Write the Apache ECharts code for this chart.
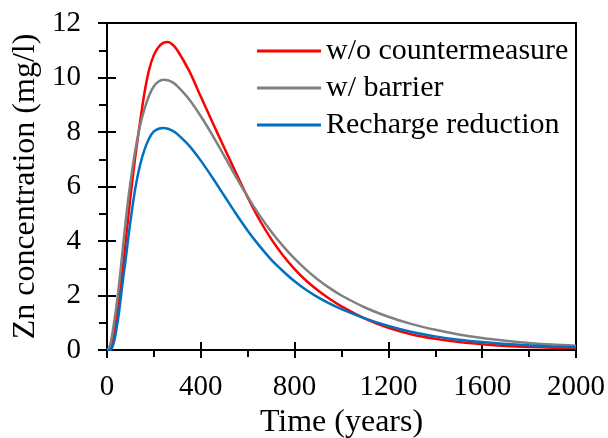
<!DOCTYPE html>
<html>
<head>
<meta charset="utf-8">
<script src="https://cdn.jsdelivr.net/npm/echarts@6/dist/echarts.min.js"></script>
<style>
html,body{margin:0;padding:0;background:#fff}
#c{width:608px;height:438px}
</style>
</head>
<body>
<div id="c"></div>
<script>
var years = [0,10,20,30,40,50,60,70,80,90,100,120,140,160,180,200,220,240,260,280,300,350,400,450,500,550,600,650,700,750,800,850,900,950,1000,1100,1200,1300,1400,1500,1600,1700,1800,1900,2000];
var noCountermeasure = [0,0.0,0.15,0.55,1.1,1.7,2.45,3.2,4.0,4.82,5.62,7.05,8.3,9.45,10.3,10.83,11.12,11.27,11.3,11.2,11.0,10.25,9.3,8.35,7.42,6.5,5.6,4.78,4.08,3.48,2.97,2.54,2.18,1.87,1.6,1.15,0.81,0.57,0.41,0.29,0.21,0.15,0.11,0.085,0.065];
var withBarrier = [0,0.1,0.45,1.0,1.6,2.3,3.1,3.95,4.75,5.5,6.15,7.3,8.2,8.85,9.35,9.68,9.85,9.92,9.9,9.82,9.68,9.2,8.58,7.88,7.12,6.35,5.62,4.95,4.35,3.82,3.35,2.94,2.58,2.27,2.0,1.56,1.22,0.95,0.74,0.57,0.44,0.34,0.26,0.2,0.16];
var rechargeReduction = [0,0,0.05,0.3,0.75,1.3,2.0,2.7,3.35,4.05,4.72,5.9,6.75,7.35,7.77,8.02,8.12,8.15,8.12,8.04,7.92,7.5,6.95,6.32,5.66,5.0,4.38,3.82,3.32,2.9,2.52,2.2,1.93,1.7,1.5,1.16,0.88,0.66,0.5,0.38,0.29,0.22,0.17,0.13,0.1];
var seriesNames = ['w/o countermeasure','w/ barrier','Recharge reduction'];
var seriesColors = ['#ff0000','#808080','#0070c0'];
var xTitle = 'Time (years)';
var yTitle = 'Zn concentration (mg/l)';

var SERIF = 'Times New Roman';

function pairs(v){ return years.map(function(t,i){ return [t, v[i]]; }); }
var allVals = [noCountermeasure, withBarrier, rechargeReduction];
function plain(v){ return String(v); }
var axisLine = {show:true, lineStyle:{color:'#000', width:2}};

var chart = echarts.init(document.getElementById('c'), null, {renderer:'canvas'});
chart.setOption({
  animation:false,
  backgroundColor:'#fff',
  grid:{left:107, right:32, top:23, bottom:88, outerBoundsMode:'none', containLabel:false,
        show:true, borderColor:'#000', borderWidth:2, backgroundColor:'transparent'},
  legend:{
    orient:'vertical', left:252, top:31, itemWidth:64, itemHeight:3, icon:'rect', itemGap:7,
    textStyle:{fontFamily:SERIF, fontSize:30, color:'#000', lineHeight:30},
    data:seriesNames
  },
  xAxis:[
    {type:'value', min:0, max:2000, interval:400, position:'bottom',
     name:xTitle, nameLocation:'middle', nameGap:53,
     nameTextStyle:{fontFamily:SERIF, fontSize:32, color:'#000'},
     axisLine:axisLine, splitLine:{show:false},
     axisTick:{show:true, inside:false, length:8, lineStyle:{color:'#000', width:2}},
     minorTick:{show:true, splitNumber:2, length:7, lineStyle:{color:'#000', width:2}},
     axisLabel:{fontFamily:SERIF, fontSize:29, color:'#000', margin:23, formatter:plain}},
    {type:'value', min:0, max:2000, interval:400, position:'bottom',
     axisLine:{show:false}, splitLine:{show:false}, axisLabel:{show:false},
     axisTick:{show:true, inside:true, length:8, lineStyle:{color:'#000', width:2}}}
  ],
  yAxis:[
    {type:'value', min:0, max:12, interval:2, position:'left',
     name:yTitle, nameLocation:'middle', nameGap:65,
     nameTextStyle:{fontFamily:SERIF, fontSize:32, color:'#000'},
     axisLine:axisLine, splitLine:{show:false},
     axisTick:{show:true, inside:false, length:9, lineStyle:{color:'#000', width:2}},
     minorTick:{show:true, splitNumber:2, length:8, lineStyle:{color:'#000', width:2}},
     axisLabel:{fontFamily:SERIF, fontSize:29, color:'#000', margin:26, formatter:plain}},
    {type:'value', min:0, max:12, interval:2, position:'left',
     axisLine:{show:false}, splitLine:{show:false}, axisLabel:{show:false},
     axisTick:{show:true, inside:true, length:9, lineStyle:{color:'#000', width:2}}}
  ],
  series: seriesNames.map(function(n,i){
    return {name:n, type:'line', xAxisIndex:0, yAxisIndex:0, data:pairs(allVals[i]),
      showSymbol:false, smooth:0.3, color:seriesColors[i],
      lineStyle:{color:seriesColors[i], width:2.5}};
  })
});
</script>
</body>
</html>
